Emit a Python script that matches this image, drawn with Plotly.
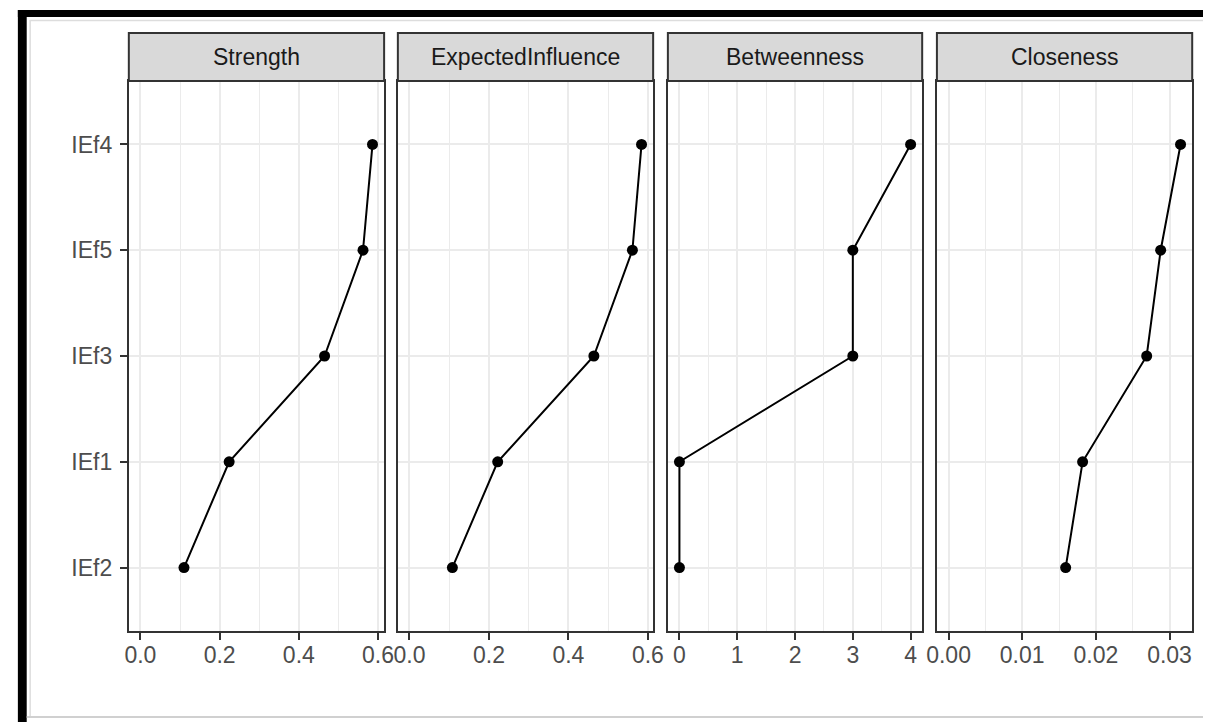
import plotly.graph_objects as go

W, H = 1214, 722

# ---- data ----
nodes = ["IEf4", "IEf5", "IEf3", "IEf1", "IEf2"]
node_order = ["IEf2", "IEf1", "IEf3", "IEf5", "IEf4"]  # bottom -> top
panels = ["Strength", "ExpectedInfluence", "Betweenness", "Closeness"]
strength = [0.586, 0.562, 0.465, 0.224, 0.110]
expected_influence = [0.584, 0.561, 0.464, 0.222, 0.108]
betweenness = [4, 3, 3, 0, 0]
closeness = [0.0315, 0.0288, 0.0269, 0.0182, 0.0159]
series = [strength, expected_influence, betweenness, closeness]

# ---- layout helpers (pixels -> paper) ----
def px(x):
    return x / W

def py(y):
    return 1 - y / H

panel_x = [(120, 380), (394, 654), (669, 928), (943, 1203)]
plot_top, plot_bot = 81, 631
strip_top = 33

x_ranges = [(-0.0293, 0.6153), (-0.0292, 0.6132), (-0.2, 4.2), (-0.00158, 0.03308)]
x_dticks = [0.2, 0.2, 1, 0.01]
x_minor = [0.1, 0.1, 0.5, 0.005]
x_formats = [".1f", ".1f", "d", ".2f"]

FONT = "Liberation Sans, Arial, sans-serif"
GRID = "#EBEBEB"
DARK = "#333333"

fig = go.Figure()
layout = dict(
    width=W, height=H,
    margin=dict(l=0, r=0, t=0, b=0),
    paper_bgcolor="white", plot_bgcolor="white",
    showlegend=False,
    font=dict(family=FONT, size=23, color="#4D4D4D"),
)

shapes = []
annotations = []

for i, (name, vals) in enumerate(zip(panels, series)):
    xa = "x" if i == 0 else f"x{i+1}"
    ya = "y" if i == 0 else f"y{i+1}"
    fig.add_trace(go.Scatter(
        x=vals, y=nodes, mode="lines+markers",
        line=dict(color="black", width=2),
        marker=dict(color="black", size=11),
        xaxis=xa, yaxis=ya, hoverinfo="skip",
    ))
    x0, x1 = panel_x[i]
    layout["xaxis" if i == 0 else f"xaxis{i+1}"] = dict(
        domain=[px(x0), px(x1)], anchor=ya,
        range=list(x_ranges[i]),
        tick0=0, dtick=x_dticks[i], tickformat=x_formats[i],
        showgrid=True, gridcolor=GRID, gridwidth=2,
        minor=dict(tick0=0, dtick=x_minor[i], showgrid=True,
                   gridcolor=GRID, gridwidth=1, ticks=""),
        zeroline=False,
        showline=True, mirror=True, linecolor=DARK, linewidth=2,
        ticks="outside", ticklen=7, tickwidth=2, tickcolor=DARK,
        ticklabelstandoff=-5,
        tickfont=dict(family=FONT, size=23, color="#4D4D4D"),
        fixedrange=True,
    )
    layout["yaxis" if i == 0 else f"yaxis{i+1}"] = dict(
        domain=[py(plot_bot), py(plot_top)], anchor=xa,
        type="category", categoryorder="array", categoryarray=node_order,
        range=[-0.6, 4.6],
        showgrid=True, gridcolor=GRID, gridwidth=2,
        zeroline=False,
        showline=True, mirror=True, linecolor=DARK, linewidth=2,
        ticks="outside" if i == 0 else "",
        ticklen=7, tickwidth=2, tickcolor=DARK,
        ticklabelstandoff=3,
        showticklabels=(i == 0),
        tickfont=dict(family=FONT, size=23, color="#4D4D4D"),
        fixedrange=True,
    )
    # strip
    shapes.append(dict(
        type="rect", xref="paper", yref="paper",
        x0=px(x0), x1=px(x1), y0=py(plot_top), y1=py(strip_top),
        fillcolor="#D9D9D9", line=dict(color=DARK, width=2), layer="above",
    ))
    annotations.append(dict(
        text=name, xref="paper", yref="paper",
        x=px((x0 + x1) / 2), y=py((strip_top + plot_top) / 2),
        xanchor="center", yanchor="middle", showarrow=False,
        font=dict(family=FONT, size=23, color="#1A1A1A"),
    ))

# outer frame decorations (screenshot border)
shapes += [
    dict(type="rect", xref="paper", yref="paper", x0=px(7), x1=px(16), y0=0, y1=py(10),
         fillcolor="black", line=dict(width=0), layer="above"),
    dict(type="rect", xref="paper", yref="paper", x0=px(7), x1=1, y0=py(17), y1=py(10),
         fillcolor="black", line=dict(width=0), layer="above"),
    dict(type="line", xref="paper", yref="paper", x0=px(19.5), x1=px(19.5), y0=py(717), y1=py(20),
         line=dict(color="#DDDDDD", width=1.5)),
    dict(type="line", xref="paper", yref="paper", x0=px(19.5), x1=1, y0=py(20.5), y1=py(20.5),
         line=dict(color="#DDDDDD", width=1.5)),
    dict(type="line", xref="paper", yref="paper", x0=px(16), x1=1, y0=py(717), y1=py(717),
         line=dict(color="#D0D0D0", width=2)),
]

layout["shapes"] = shapes
layout["annotations"] = annotations
fig.update_layout(**layout)
fig.write_html(
    "out.html",
    post_script="document.body.style.margin='0';document.body.style.overflow='hidden';",
)
